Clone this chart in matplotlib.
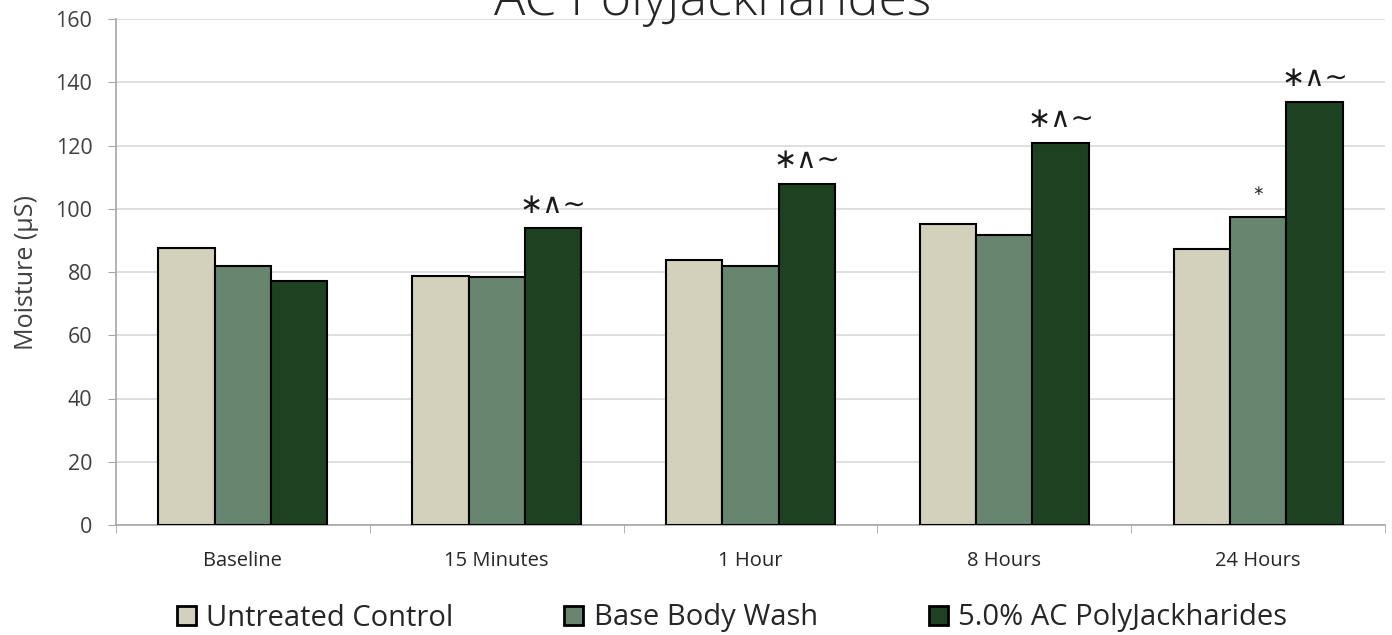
import matplotlib
matplotlib.use("Agg")
import matplotlib.pyplot as plt
import numpy as np

categories = ["Baseline", "15 Minutes", "1 Hour", "8 Hours", "24 Hours"]
series_names = ["Untreated Control", "Base Body Wash", "5.0% AC PolyJackharides"]
untreated = [87.6, 78.7, 83.8, 95.3, 87.3]
base_wash = [82.0, 78.4, 82.0, 91.7, 97.3]
ac_poly = [77.2, 93.9, 107.9, 120.9, 133.8]
annot_poly = ["", "*^~", "*^~", "*^~", "*^~"]
annot_base = ["", "", "", "", "*"]
colors = ["#d3d1bb", "#688570", "#1e4221"]
yticks = [0, 20, 40, 60, 80, 100, 120, 140, 160]

plt.rcParams['font.family'] = ['Open Sans', 'DejaVu Sans']

fig = plt.figure(figsize=(13.92, 6.35), dpi=100)
ax = fig.add_axes([116/1392, 1-525/635, (1385-116)/1392, (525-19)/635])

x = np.arange(len(categories))
w = 0.222
data = [untreated, base_wash, ac_poly]
for i, (vals, c, name) in enumerate(zip(data, colors, series_names)):
    ax.bar(x + (i-1)*w, vals, w, color=c, edgecolor="black", linewidth=1.5, label=name, zorder=3)

for xi, v, t in zip(x, ac_poly, annot_poly):
    if t:
        ax.text(xi + w, v + 3, "∗∧∼", ha="center", va="bottom", fontsize=20, family=['DejaVu Sans'],
                color="#1a1a1a", zorder=4)
for xi, v, t in zip(x, base_wash, annot_base):
    if t:
        ax.text(xi, v + 6, "∗", ha="center", va="bottom", fontsize=10, family=['DejaVu Sans'], color="#333333", zorder=4)

ax.set_xlim(-0.5, len(categories)-0.5)
ax.set_ylim(0, 160)
ax.set_yticks(yticks)
ax.set_yticklabels([str(t) for t in yticks], fontsize=15.5, color="#404040")
ax.set_xticks(x)
ax.set_xticklabels(categories, fontsize=14.5, color="#262626")
ax.set_xticks(np.arange(-0.5, len(categories)), minor=True)
ax.tick_params(axis="x", which="major", length=0, pad=19)
ax.tick_params(axis="x", which="minor", length=6, color="#a6a6a6", direction="out")
ax.tick_params(axis="y", length=6, color="#a6a6a6", direction="out", pad=11)
ax.grid(axis="y", color="#d9d9d9", linewidth=1.2, zorder=0)
ax.set_axisbelow(True)
for s in ["top", "right"]:
    ax.spines[s].set_visible(False)
ax.spines["left"].set_color("#a6a6a6")
ax.spines["bottom"].set_color("#a6a6a6")
ax.spines["left"].set_linewidth(1.2)
ax.spines["bottom"].set_linewidth(1.2)

ax.set_ylabel("Moisture (µS)", fontsize=18, color="#404040", labelpad=12)

fig.text(713/1392, 1-15/635, "AC PolyJackharides", ha="center", va="baseline", fontsize=37.5,
         color="#262626", fontweight="light")

leg = fig.legend(loc="center", bbox_to_anchor=(732/1392, 1-618/635), ncol=3, frameon=False,
                 fontsize=21, handlelength=0.65, handleheight=0.65, columnspacing=3.8, handletextpad=0.35)
for t in leg.get_texts():
    t.set_color("#262626")
for h in leg.legend_handles:
    h.set_linewidth(2)

fig.savefig("out.png", dpi=100)
